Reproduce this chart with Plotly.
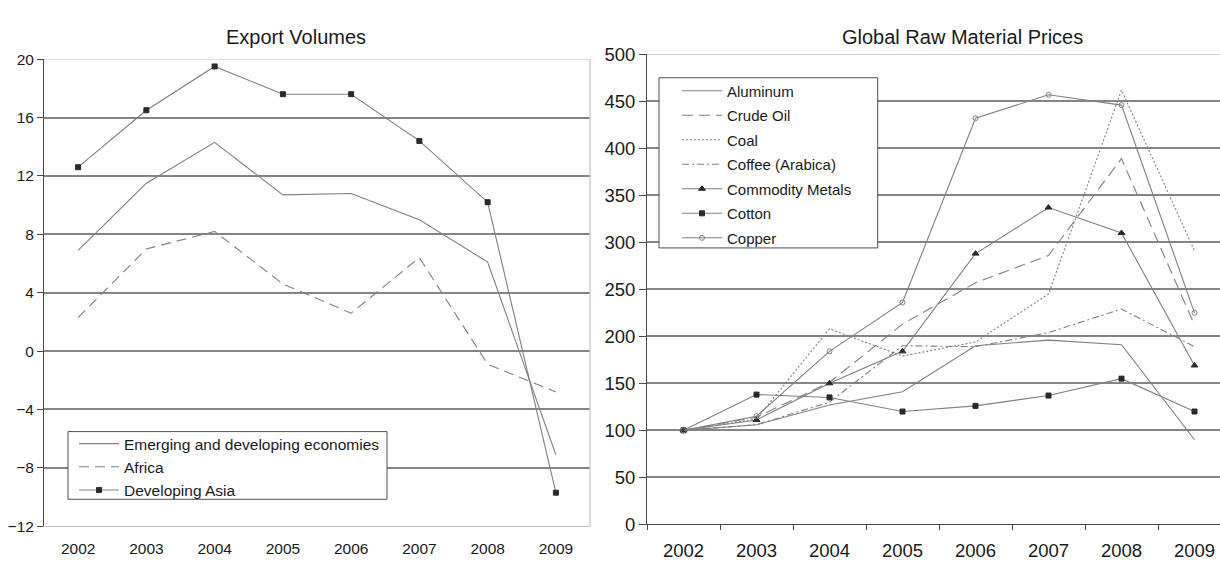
import plotly.graph_objects as go

# ---------------- data ----------------
years = ["2002", "2003", "2004", "2005", "2006", "2007", "2008", "2009"]

# Export Volumes (left)
emerging = [6.9, 11.5, 14.3, 10.7, 10.8, 9.0, 6.1, -7.1]
africa = [2.3, 7.0, 8.2, 4.6, 2.6, 6.4, -0.9, -2.8]
dev_asia = [12.6, 16.5, 19.5, 17.6, 17.6, 14.4, 10.2, -9.7]
left_ticks = [-12, -8, -4, 0, 4, 8, 12, 16, 20]

# Global Raw Material Prices (right)
aluminum = [100, 106, 127, 141, 190, 196, 191, 90]
crude_oil = [100, 114, 151, 213, 257, 286, 389, 212]
coal = [100, 112, 208, 179, 194, 245, 462, 291]
coffee = [100, 106, 130, 190, 189, 204, 229, 189]
metals = [100, 111, 150, 184, 288, 337, 310, 169]
cotton = [100, 138, 135, 120, 126, 137, 155, 120]
copper = [100, 115, 184, 236, 432, 457, 446, 225]
right_ticks = [0, 50, 100, 150, 200, 250, 300, 350, 400, 450, 500]

# ---------------- styling ----------------
W, H = 1220, 569
FONT = "Liberation Sans, Arial, sans-serif"
LINE = "#808080"
MARK = "#2a2a2a"
GRID = "#858585"
LIGHT = "#c4c4c4"
AXIS = "#4a4a4a"
BOX = "#505050"
TXT = "#1a1a1a"


def px(x):
    return x / W


def py(y):
    return 1 - y / H


fig = go.Figure()


def add(x, y, name, xa, ya, leg, dash="solid", symbol=None, msize=5, mcolor=MARK, width=1.1):
    mode = "lines+markers" if symbol else "lines"
    fig.add_trace(go.Scatter(
        x=x, y=y, name=name, mode=mode, xaxis=xa, yaxis=ya, legend=leg,
        legendgroup=name,
        line=dict(color=LINE, width=width, dash=dash),
        marker=dict(symbol=symbol or "circle", size=msize, color=mcolor,
                    line=dict(color=mcolor, width=1)),
    ))


# left chart
add(years, emerging, "Emerging and developing economies", "x", "y", "legend")
add(years, africa, "Africa", "x", "y", "legend", dash="10px,6px")
add(years, dev_asia, "Developing Asia", "x", "y", "legend", symbol="square", msize=5)

# right chart
add(years, aluminum, "Aluminum", "x2", "y2", "legend2")
add(years, crude_oil, "Crude Oil", "x2", "y2", "legend2", dash="11px,6px")
add(years, coal, "Coal", "x2", "y2", "legend2", dash="2px,2px")
add(years, coffee, "Coffee (Arabica)", "x2", "y2", "legend2", dash="7px,3px,2px,3px")
add(years, metals, "Commodity Metals", "x2", "y2", "legend2", symbol="triangle-up", msize=6)
add(years, cotton, "Cotton", "x2", "y2", "legend2", symbol="square", msize=5)
add(years, copper, "Copper", "x2", "y2", "legend2", symbol="circle-open", msize=5, mcolor="#808080")

# right panel: 73px per category, plot continues past the window edge
r_left = 647
r_range_hi = -0.5 + (W - r_left) / 73.0

fig.update_layout(
    width=W, height=H,
    margin=dict(l=0, r=0, t=0, b=0),
    paper_bgcolor="white", plot_bgcolor="white",
    font=dict(family=FONT, color=TXT),
    showlegend=True,
    xaxis=dict(
        domain=[px(44), px(590)], type="category", range=[-0.5, 7.5],
        showgrid=False, zeroline=False,
        showline=True, linecolor=LIGHT, linewidth=1,
        ticks="", tickfont=dict(size=15.5, color=TXT),
        ticklabelstandoff=8,
        anchor="y",
    ),
    yaxis=dict(
        domain=[py(535), py(50)], range=[-12, 20], tickvals=left_ticks,
        showgrid=True, gridcolor=GRID, gridwidth=1.6, zeroline=False,
        showline=True, linecolor=AXIS, linewidth=1,
        ticks="outside", ticklen=6, tickcolor=AXIS,
        tickfont=dict(size=15.5, color=TXT),
        anchor="x",
    ),
    xaxis2=dict(
        domain=[px(r_left), 1.0], type="category", range=[-0.5, r_range_hi],
        showgrid=False, zeroline=False,
        showline=True, linecolor=AXIS, linewidth=1,
        ticks="outside", tickson="boundaries", ticklen=5, tickcolor=AXIS,
        tickfont=dict(size=18.5, color=TXT),
        ticklabelstandoff=9,
        anchor="y2",
    ),
    yaxis2=dict(
        domain=[py(533), py(45)], range=[0, 500], tickvals=right_ticks,
        showgrid=True, gridcolor=GRID, gridwidth=1.6, zeroline=False,
        showline=True, linecolor=AXIS, linewidth=1,
        ticks="outside", ticklen=7, tickcolor=AXIS,
        tickfont=dict(size=18.5, color=TXT),
        anchor="x2",
    ),
    legend=dict(
        x=px(74), y=py(432), xanchor="left", yanchor="top",
        bgcolor="rgba(0,0,0,0)", borderwidth=0,
        font=dict(size=15.5, color=TXT), itemwidth=40,
        tracegroupgap=0,
    ),
    legend2=dict(
        x=px(677), y=py(66), xanchor="left", yanchor="top",
        bgcolor="rgba(0,0,0,0)", borderwidth=0,
        font=dict(size=15, color=TXT), itemwidth=40,
        tracegroupgap=2,
    ),
    annotations=[
        dict(text="Export Volumes", x=px(296), y=py(27), xref="paper", yref="paper",
             xanchor="center", yanchor="middle", showarrow=False,
             font=dict(size=20, color=TXT, family=FONT)),
        dict(text="Global Raw Material Prices", x=px(962), y=py(27), xref="paper", yref="paper",
             xanchor="center", yanchor="middle", showarrow=False,
             font=dict(size=20, color=TXT, family=FONT)),
    ],
    shapes=[
        # left panel light top and right border
        dict(type="line", xref="x domain", yref="y", x0=0, x1=1, y0=20, y1=20,
             line=dict(color=LIGHT, width=1.2), layer="above"),
        dict(type="line", xref="x domain", yref="y", x0=1, x1=1, y0=-12, y1=20,
             line=dict(color=LIGHT, width=1.2), layer="above"),
        # right panel light top border
        dict(type="line", xref="x2 domain", yref="y2", x0=0, x1=1, y0=500, y1=500,
             line=dict(color=LIGHT, width=1.2), layer="above"),
        # legend boxes
        dict(type="rect", xref="paper", yref="paper",
             x0=px(68), x1=px(387), y0=py(507), y1=py(436.7),
             line=dict(color=BOX, width=1), fillcolor="white", layer="above"),
        dict(type="rect", xref="paper", yref="paper",
             x0=px(659), x1=px(877.7), y0=py(246), y1=py(69.3),
             line=dict(color=BOX, width=1), fillcolor="white", layer="above"),
    ],
)

# place the figure flush with the page corner (no default body margin), no toolbar
fig.write_html(
    "out.html",
    config={"displayModeBar": False},
    post_script="document.body.style.margin='0';",
)
